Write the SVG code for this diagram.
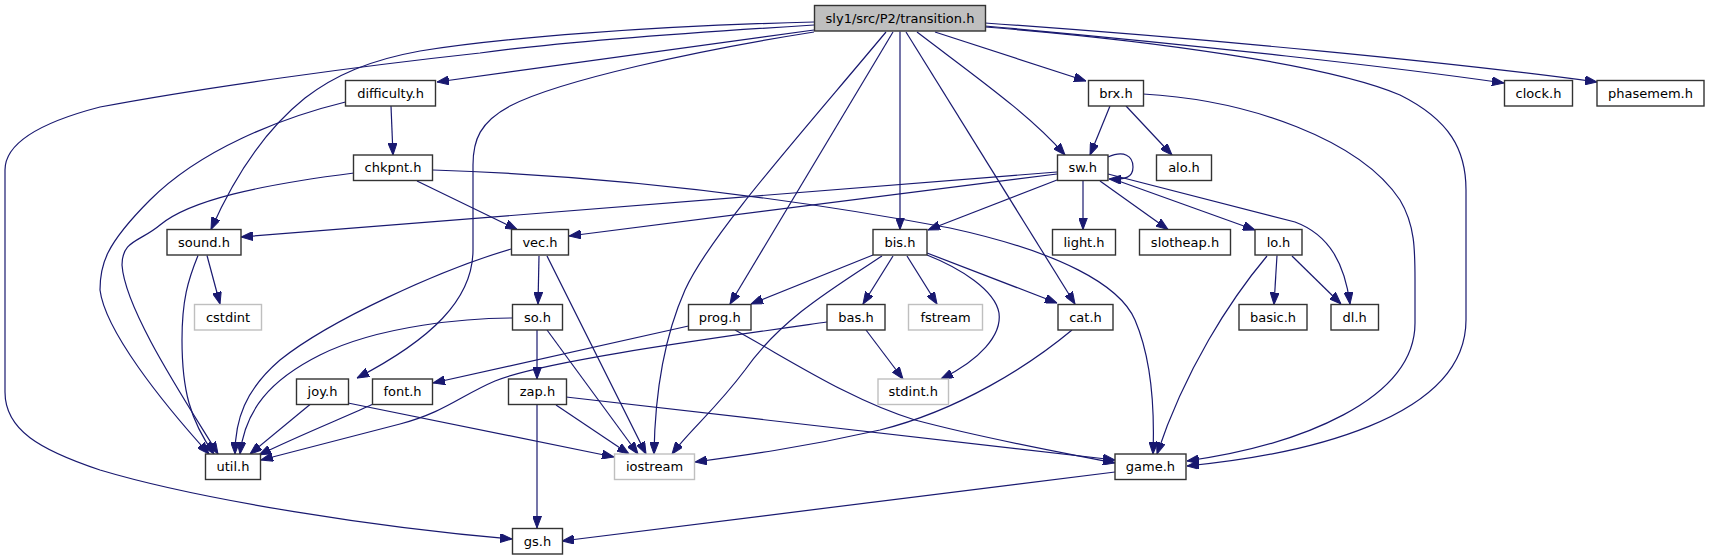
<svg xmlns="http://www.w3.org/2000/svg" width="1709" height="560" viewBox="0 0 1709 560">
<style>
.n rect{fill:#fff;stroke:#333;stroke-width:1.4}
.root rect{fill:#bfbfbf;stroke:#333;stroke-width:1.4}
.ext rect{fill:#fff;stroke:#bfbfbf;stroke-width:1.4}
text{font-family:"DejaVu Sans","Liberation Sans",sans-serif;font-size:13px;text-anchor:middle;fill:#000}
#edges path{fill:none;stroke:#191970;stroke-width:1.2;marker-end:url(#arr)}
</style>
<defs>
<marker id="arr" markerWidth="12" markerHeight="9" refX="12" refY="4.5" orient="auto" markerUnits="userSpaceOnUse">
<path d="M0,0 L12,4.5 L0,9 z" fill="#191970" stroke="#191970" stroke-width="1"/>
</marker>
</defs>
<rect width="1709" height="560" fill="#fff"/>
<g id="edges">
<path d="M814,25 C700,32 560,42 480,53 C360,66 200,88 100,107 C50,120 5,140 5,170 L5,392 C5,430 40,450 100,470 C200,500 380,528 512,539"/>
<path d="M814,22 C650,26 500,38 420,51 C370,60 335,75 305,98 C265,130 235,175 211,229.5"/>
<path d="M814,30 L437,82"/>
<path d="M814,32 C700,50 560,80 510,106 C480,122 473,140 473,165 L473,250 C473,300 430,340 357,378"/>
<path d="M886,32 C800,135 710,235 685,290 C665,335 655,390 654,454"/>
<path d="M893,32 L730,304"/>
<path d="M900,31.5 L900,229.5"/>
<path d="M906,32 L1075,304"/>
<path d="M917,32 C980,80 1030,115 1065,155"/>
<path d="M935,32 L1086,81"/>
<path d="M985,26 C1200,45 1400,68 1504,83"/>
<path d="M985,23 C1200,38 1450,62 1597,82"/>
<path d="M985,27 C1150,40 1330,65 1400,95 C1450,120 1466,150 1466,190 L1466,320 C1466,420 1300,455 1187,466"/>
<path d="M1110,106 L1090,155"/>
<path d="M1126,106 L1172,155"/>
<path d="M1143,94 C1250,100 1360,140 1400,200 C1415,225 1415,250 1415,280 L1415,323 C1415,400 1300,445 1187,461"/>
<path d="M1108,157 C1124,150 1133,156 1133,167 C1133,177 1126,180 1109,179"/>
<path d="M1057,172 L241,237"/>
<path d="M1057,174 L569,236"/>
<path d="M1057,180 L928,230"/>
<path d="M1083,181 L1083,229.5"/>
<path d="M1100,181 L1168,229.5"/>
<path d="M1113,179 L1255,230"/>
<path d="M1108,174 L1295,222 C1330,235 1345,265 1350,304"/>
<path d="M1277,255.5 L1274,304.5"/>
<path d="M1292,256 L1341,304"/>
<path d="M1267,256 C1230,300 1185,370 1157,454"/>
<path d="M433,170 C620,176 800,200 950,228 C1060,252 1120,285 1135,320 C1150,355 1155,400 1153,454"/>
<path d="M417,181 L517,229.5"/>
<path d="M354,173 C260,185 190,200 160,225 C140,242 122,240 122,265 C125,310 185,400 218,454"/>
<path d="M391,106 L393,155"/>
<path d="M345.5,102 C280,118 200,150 150,200 C105,245 100,265 100,290 C105,330 160,400 209,454"/>
<path d="M207,255.5 L220,304"/>
<path d="M198,255.5 C188,280 182,300 182,340 C182,390 190,420 214,454"/>
<path d="M511,249 C440,270 330,320 280,360 C245,390 235,420 235,454"/>
<path d="M539,256 L538,304"/>
<path d="M547,256 L646,454"/>
<path d="M512,318 C470,318 380,325 320,355 C270,380 245,410 240,454"/>
<path d="M537,330 L537,379"/>
<path d="M547,330 L638,454"/>
<path d="M537,404.5 L537,528"/>
<path d="M556,405 L629,454"/>
<path d="M566,397 L1115,460"/>
<path d="M310,404.5 L250,454"/>
<path d="M348,403 L614,457"/>
<path d="M372,404.5 C350,415 300,435 259,455"/>
<path d="M688.5,326 L433,383"/>
<path d="M735,330 C790,360 850,400 915,420 C990,440 1060,452 1115,463"/>
<path d="M827,322 C700,340 540,362 495,381 C460,396 445,412 400,424 L261,460"/>
<path d="M866,330 L903,379"/>
<path d="M873,255 L751,304"/>
<path d="M893,256 L863,304"/>
<path d="M907,256 L937,304"/>
<path d="M927,255 C960,268 995,290 999,313 C1002,335 980,360 941,379"/>
<path d="M927,253 L1057,303"/>
<path d="M882,256 C830,290 780,320 745,370 C715,410 690,430 672,454"/>
<path d="M1072,330 C1030,365 960,410 880,430 C800,448 740,456 695,462"/>
<path d="M1115,472 L562,541"/>
</g>
<g id="transition" class="root"><rect x="814.5" y="5.5" width="171" height="25.5"/><text x="900" y="22.7">sly1/src/P2/transition.h</text></g>
<g id="difficulty" class="n"><rect x="345.5" y="80.5" width="90" height="25.5"/><text x="390.5" y="97.7">difficulty.h</text></g>
<g id="brx" class="n"><rect x="1088.5" y="80.5" width="55" height="25.5"/><text x="1116" y="97.7">brx.h</text></g>
<g id="clock" class="n"><rect x="1504.5" y="80.5" width="68" height="25.5"/><text x="1538.5" y="97.7">clock.h</text></g>
<g id="phasemem" class="n"><rect x="1597" y="80.5" width="107" height="25.5"/><text x="1650.5" y="97.7">phasemem.h</text></g>
<g id="chkpnt" class="n"><rect x="353.5" y="155" width="79" height="25.5"/><text x="393" y="172.2">chkpnt.h</text></g>
<g id="sw" class="n"><rect x="1057.5" y="155" width="50.5" height="25.5"/><text x="1082.7" y="172.2">sw.h</text></g>
<g id="alo" class="n"><rect x="1156.5" y="155" width="55" height="25.5"/><text x="1184" y="172.2">alo.h</text></g>
<g id="sound" class="n"><rect x="167" y="229.5" width="74" height="25.5"/><text x="204" y="246.7">sound.h</text></g>
<g id="vec" class="n"><rect x="511.5" y="229.5" width="57" height="25.5"/><text x="540" y="246.7">vec.h</text></g>
<g id="bis" class="n"><rect x="873" y="229.5" width="54" height="25.5"/><text x="900" y="246.7">bis.h</text></g>
<g id="light" class="n"><rect x="1052.5" y="229.5" width="63" height="25.5"/><text x="1084" y="246.7">light.h</text></g>
<g id="slotheap" class="n"><rect x="1139.5" y="229.5" width="91" height="25.5"/><text x="1185" y="246.7">slotheap.h</text></g>
<g id="lo" class="n"><rect x="1255" y="229.5" width="47" height="25.5"/><text x="1278.5" y="246.7">lo.h</text></g>
<g id="cstdint" class="ext"><rect x="194.5" y="304.5" width="67" height="25.5"/><text x="228" y="321.7">cstdint</text></g>
<g id="so" class="n"><rect x="512.5" y="304.5" width="50" height="25.5"/><text x="537.5" y="321.7">so.h</text></g>
<g id="prog" class="n"><rect x="688.5" y="304.5" width="62.5" height="25.5"/><text x="719.7" y="321.7">prog.h</text></g>
<g id="bas" class="n"><rect x="827" y="304.5" width="58" height="25.5"/><text x="856" y="321.7">bas.h</text></g>
<g id="fstream" class="ext"><rect x="908.5" y="304.5" width="74" height="25.5"/><text x="945.5" y="321.7">fstream</text></g>
<g id="cat" class="n"><rect x="1058" y="304.5" width="55" height="25.5"/><text x="1085.5" y="321.7">cat.h</text></g>
<g id="basic" class="n"><rect x="1239" y="304.5" width="68" height="25.5"/><text x="1273" y="321.7">basic.h</text></g>
<g id="dl" class="n"><rect x="1331" y="304.5" width="47.5" height="25.5"/><text x="1354.7" y="321.7">dl.h</text></g>
<g id="joy" class="n"><rect x="296.5" y="379" width="52" height="25.5"/><text x="322.5" y="396.2">joy.h</text></g>
<g id="font" class="n"><rect x="372.5" y="379" width="60" height="25.5"/><text x="402.5" y="396.2">font.h</text></g>
<g id="zap" class="n"><rect x="508.5" y="379" width="58" height="25.5"/><text x="537.5" y="396.2">zap.h</text></g>
<g id="stdint" class="ext"><rect x="878" y="379" width="70.5" height="25.5"/><text x="913.2" y="396.2">stdint.h</text></g>
<g id="util" class="n"><rect x="205.5" y="454" width="55" height="25.5"/><text x="233" y="471.2">util.h</text></g>
<g id="iostream" class="ext"><rect x="614.5" y="454" width="80" height="25.5"/><text x="654.5" y="471.2">iostream</text></g>
<g id="game" class="n"><rect x="1115" y="454" width="71" height="25.5"/><text x="1150.5" y="471.2">game.h</text></g>
<g id="gs" class="n"><rect x="512.5" y="528.5" width="50" height="25.5"/><text x="537.5" y="545.7">gs.h</text></g>
</svg>
